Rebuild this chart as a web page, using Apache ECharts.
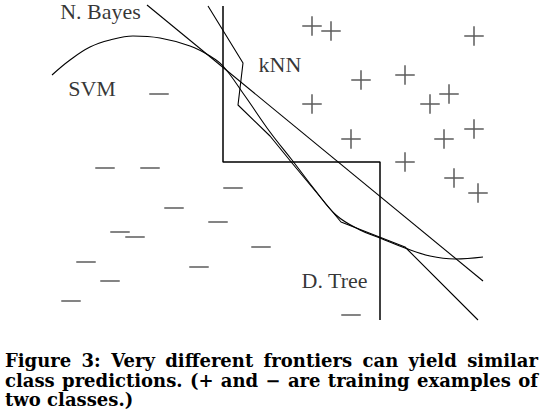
<!DOCTYPE html>
<html>
<head>
<meta charset="utf-8">
<script src="https://cdn.jsdelivr.net/npm/echarts@6/dist/echarts.min.js"></script>
<style>html,body{margin:0;padding:0;background:#fff}#c{width:543px;height:415px}</style>
</head>
<body>
<div id="c"></div>
<script>
// Training examples (feature-space coordinates)
const plusX  = [312, 331, 474, 361, 405, 312, 430, 449, 351, 444, 474, 405, 454, 478];
const plusY  = [26, 31, 36, 80, 75, 104, 104, 94, 139, 139, 129, 162, 178, 193];
const minusX = [159, 105, 150, 233, 174, 218, 120, 135, 261, 86, 199, 110, 71, 351];
const minusY = [94, 168, 168, 188, 208, 222, 232, 237, 247, 262, 267, 281, 301, 315];

// Decision frontiers
const treeX  = [223, 223, 380, 380];
const treeY  = [6, 162, 162, 320];
const bayesX = [147, 483];
const bayesY = [5, 281];
const knnX   = [208, 243, 238, 270, 292, 341, 405, 478];
const knnY   = [6, 63, 105, 136, 163, 222, 247, 320];
const svmX   = [52, 70, 90, 110, 133, 160, 190, 210, 223, 245, 270, 292, 315, 336, 360, 380, 405, 430, 455, 483];
const svmY   = [75, 60, 47, 40, 36, 38, 46, 56, 66, 96, 132, 160, 190, 215, 230, 238, 248, 256, 259, 257];

// Frontier labels
const labelNames = ['N. Bayes', 'SVM', 'kNN', 'D. Tree'];
const labelX = [100.5, 92, 280, 334.5];
const labelY = [11, 88, 64, 280];

const captionLines = [
  'Figure 3: Very different frontiers can yield similar',
  'class predictions. (+ and \u2212 are training examples of',
  'two classes.)'
];
const captionJustify = [true, true, false];

const zip = (a, b) => a.map((v, i) => [v, b[i]]);
const lineSeries = (xs, ys, w, smooth) => ({
  type: 'line', data: zip(xs, ys), symbol: 'none', smooth: smooth || false,
  lineStyle: { color: '#000', width: w }, silent: true, animation: false, z: 2
});

const serif = '"Liberation Serif", "Times New Roman", serif';
const capSerif = '"DejaVu Serif", serif';
const capFont = 18;
const capLeft = 5, capWidth = 533;

// Justify caption lines (like the typeset original) by widening inter-word gaps
const ctx = document.createElement('canvas').getContext('2d');
ctx.font = 'bold ' + capFont + 'px ' + capSerif;
const rich = {};
const captionTexts = captionLines.map((line, i) => {
  if (!captionJustify[i]) return line;
  const words = line.split(' ');
  const wsum = words.reduce((s, w) => s + ctx.measureText(w).width, 0);
  const gap = (capWidth - wsum) / (words.length - 1);
  rich['g' + i] = { width: gap, fontFamily: capSerif, fontWeight: 'bold', fontSize: capFont, lineHeight: 18 };
  return words.join('{g' + i + '| }');
});

const chart = echarts.init(document.getElementById('c'), null, { renderer: 'svg' });
chart.setOption({
  animation: false,
  backgroundColor: '#fff',
  grid: { left: 0, top: 0, width: 543, height: 330 },
  xAxis: { type: 'value', min: 0, max: 543, show: false },
  yAxis: { type: 'value', min: 0, max: 330, inverse: true, show: false },
  title: captionTexts.map((t, i) => ({
    text: t, left: capLeft, top: [351, 371, 390][i],
    padding: 0,
    textStyle: { fontFamily: capSerif, fontWeight: 'bold', fontSize: capFont, color: '#000', lineHeight: 18, rich: rich }
  })),
  series: [
    lineSeries(treeX, treeY, 1.5),
    lineSeries(bayesX, bayesY, 1.1),
    lineSeries(knnX, knnY, 1.1),
    lineSeries(svmX, svmY, 1.1, 0.4),
    {
      type: 'scatter', data: zip(plusX, plusY),
      symbol: 'path://M0,9H19.5V10.5H0Z M9,0H10.5V19.5H9Z', symbolSize: 19.5,
      itemStyle: { color: '#333' }, silent: true, z: 3
    },
    {
      type: 'scatter', data: zip(minusX, minusY),
      symbol: 'rect', symbolSize: [19.5, 1.5],
      itemStyle: { color: '#333' }, silent: true, z: 3
    },
    {
      type: 'scatter', data: labelNames.map((n, i) => ({ name: n, value: [labelX[i], labelY[i]] })),
      symbolSize: 1, itemStyle: { color: 'transparent' }, silent: true, z: 4,
      label: {
        show: true, position: 'inside', formatter: p => p.name,
        fontFamily: serif, fontSize: 22, color: '#000', align: 'center', verticalAlign: 'middle'
      }
    }
  ]
});
</script>
</body>
</html>
